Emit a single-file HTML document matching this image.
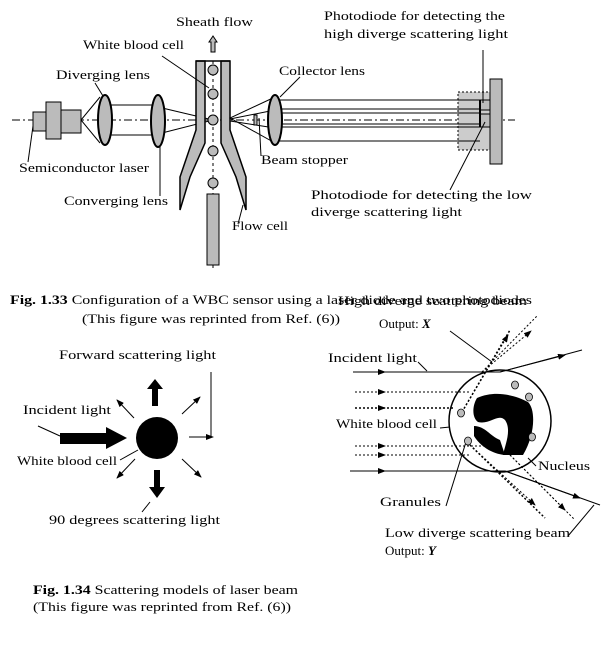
<!DOCTYPE html>
<html><head><style>
html,body{margin:0;padding:0;background:#fff;}
svg{display:block;}
text{font-family:"Liberation Serif",serif;font-size:13px;fill:#000;}
</style></head><body>
<svg width="607" height="647" viewBox="0 0 607 647" xmlns="http://www.w3.org/2000/svg">
<defs>
<marker id="ah" markerWidth="8" markerHeight="6" refX="7" refY="3" orient="auto" markerUnits="userSpaceOnUse"><path d="M0,0 L8,3 L0,6 z" fill="#000"/></marker>
</defs>
<g stroke="#000" fill="none" stroke-width="1">
<line x1="12" y1="120" x2="515" y2="120" stroke-dasharray="8,3,2,3"/>
<rect x="33" y="112" width="13" height="19" fill="#bbb"/>
<rect x="46" y="102" width="15" height="37" fill="#bbb"/>
<rect x="61" y="110" width="20" height="23" fill="#bbb"/>
<polyline points="100,97 81,120 100,143"/>
<line x1="105" y1="105" x2="158" y2="105"/>
<line x1="105" y1="135" x2="158" y2="135"/>
<polyline points="158,107 213,120 158,134"/>
<ellipse cx="105" cy="120" rx="7" ry="25" fill="#bbb" stroke-width="2"/>
<ellipse cx="158" cy="121" rx="7" ry="26" fill="#bbb" stroke-width="2"/>
<line x1="213" y1="61" x2="213" y2="268" stroke-dasharray="3,3"/>
<polygon points="196,61 205,61 205,143 190,177 180,210 180,177 196,130" fill="#bbb" stroke-width="1.5"/>
<polygon points="221,61 230,61 230,130 246,177 246,210 236,177 221,143" fill="#bbb" stroke-width="1.5"/>
<line x1="196" y1="61" x2="230" y2="61" stroke-width="1.5"/>
<circle cx="213" cy="70" r="5" fill="#bbb"/>
<circle cx="213" cy="94" r="5" fill="#bbb"/>
<circle cx="213" cy="120" r="5" fill="#bbb"/>
<circle cx="213" cy="151" r="5" fill="#bbb"/>
<circle cx="213" cy="183" r="5" fill="#bbb"/>
<rect x="207" y="194" width="12" height="71" fill="#bbb"/>
<polygon points="211,52 215,52 215,42 217,42 213,36 209,42 211,42" fill="#bbb"/>
<polyline points="275,97 230,118 275,143"/>
<line x1="230" y1="119" x2="275" y2="110"/><line x1="230" y1="121" x2="275" y2="128"/>
<rect x="458" y="92" width="32" height="58" fill="#ccc" stroke-dasharray="2,2"/>
<line x1="275" y1="100" x2="480" y2="100"/>
<line x1="275" y1="109" x2="480" y2="109"/>
<line x1="275" y1="113" x2="480" y2="113"/>
<line x1="275" y1="124" x2="480" y2="124"/>
<line x1="275" y1="127" x2="480" y2="127"/>
<line x1="275" y1="141" x2="480" y2="141"/>
<ellipse cx="275" cy="120" rx="7" ry="25" fill="#bbb" stroke-width="2"/>
<rect x="254" y="115" width="3" height="10" fill="#bbb"/>
<rect x="480" y="100" width="11" height="10" fill="#bbb"/>
<rect x="480" y="114" width="11" height="13" fill="#bbb"/>
<line x1="480" y1="100" x2="480" y2="127" stroke-width="2"/>
<rect x="490" y="79" width="12" height="85" fill="#bbb"/>
<line x1="162" y1="56" x2="209" y2="88"/>
<line x1="95" y1="83" x2="103" y2="96"/>
<line x1="33" y1="126" x2="28" y2="162"/>
<line x1="160" y1="145" x2="160" y2="196"/>
<line x1="243" y1="205" x2="238" y2="224"/>
<line x1="259" y1="118" x2="261" y2="156"/>
<line x1="300" y1="77" x2="280" y2="97"/>
<line x1="483" y1="50" x2="483" y2="103"/>
<line x1="485" y1="122" x2="450" y2="190"/>
<line x1="38" y1="426" x2="60" y2="436"/>
<line x1="120" y1="460" x2="138" y2="450"/>
<line x1="150" y1="502" x2="142" y2="512"/>
<line x1="189" y1="437" x2="213" y2="437" marker-end="url(#ah)"/>
<line x1="211" y1="372" x2="211" y2="437"/>
<line x1="134" y1="418" x2="117" y2="400" marker-end="url(#ah)"/>
<line x1="182" y1="414" x2="200" y2="397" marker-end="url(#ah)"/>
<line x1="182" y1="459" x2="201" y2="477" marker-end="url(#ah)"/>
<line x1="135" y1="459" x2="117" y2="478" marker-end="url(#ah)"/>
</g>
<circle cx="157" cy="438" r="21" fill="#000"/>
<polygon points="60,433 106,433 106,427 127,438 106,449 106,444 60,444" fill="#000"/>
<polygon points="152,406 152,389 147,389 155,379 163,389 158,389 158,406" fill="#000"/>
<polygon points="154,470 160,470 160,487 165,487 157,498 149,487 154,487" fill="#000"/>
<g stroke="#000" fill="none">
<circle cx="500" cy="421" r="51" stroke-width="1.5"/>
<line x1="353" y1="372" x2="500" y2="372"/>
<line x1="353" y1="372" x2="385" y2="372" marker-end="url(#ah)"/>
<line x1="500" y1="372" x2="582" y2="350"/>
<line x1="500" y1="372" x2="565" y2="355" marker-end="url(#ah)"/>
<line x1="350" y1="471" x2="505" y2="471"/>
<line x1="350" y1="471" x2="385" y2="471" marker-end="url(#ah)"/>
<line x1="505" y1="471" x2="600" y2="505"/>
<line x1="505" y1="471" x2="580" y2="498" marker-end="url(#ah)"/>
<g stroke-dasharray="2,2">
<line x1="355" y1="392" x2="470" y2="392"/><line x1="355" y1="392" x2="385" y2="392" marker-end="url(#ah)"/>
<line x1="355" y1="408" x2="455" y2="408" stroke-width="1.5"/><line x1="355" y1="408" x2="385" y2="408" marker-end="url(#ah)"/>
<line x1="355" y1="446" x2="490" y2="446"/><line x1="355" y1="446" x2="385" y2="446" marker-end="url(#ah)"/>
<line x1="355" y1="455" x2="470" y2="455"/><line x1="355" y1="455" x2="385" y2="455" marker-end="url(#ah)"/>
<line x1="462" y1="412" x2="510" y2="330" stroke-width="1.5"/><line x1="462" y1="412" x2="508" y2="335" marker-end="url(#ah)"/>
<line x1="482" y1="372" x2="537" y2="316"/><line x1="482" y1="372" x2="531" y2="331" marker-end="url(#ah)"/>
<line x1="470" y1="445" x2="545" y2="518" stroke-width="1.5"/><line x1="470" y1="445" x2="535" y2="505" marker-end="url(#ah)"/>
<line x1="510" y1="455" x2="575" y2="520"/><line x1="510" y1="455" x2="565" y2="510" marker-end="url(#ah)"/>
</g>
<line x1="450" y1="331" x2="492" y2="362"/>
<line x1="418" y1="362" x2="427" y2="371"/>
<line x1="440" y1="428" x2="450" y2="427"/>
<line x1="536" y1="466" x2="528" y2="458"/>
<line x1="446" y1="506" x2="466" y2="442"/>
<line x1="568" y1="536" x2="594" y2="505"/>
</g>
<path d="M477,398 C495,390 515,395 528,402 C536,410 535,435 523,455 L503,455 C505,445 512,430 505,420 C498,413 490,425 478,422 C472,418 472,406 477,398 Z" fill="#000"/>
<path d="M474,426 C485,426 490,436 500,440 L505,455 C492,454 480,446 474,436 Z" fill="#000"/>
<g fill="#bbb" stroke="#000" stroke-width="0.8">
<ellipse cx="515" cy="385" rx="3.5" ry="4"/>
<ellipse cx="529" cy="397" rx="3.5" ry="4"/>
<ellipse cx="461" cy="413" rx="3.5" ry="4"/>
<ellipse cx="532" cy="437" rx="3.5" ry="4"/>
<ellipse cx="468" cy="441" rx="3.5" ry="4"/>
</g>
<g>
<text x="176" y="26" textLength="77" lengthAdjust="spacingAndGlyphs">Sheath flow</text>
<text x="83" y="49" textLength="101" lengthAdjust="spacingAndGlyphs">White blood cell</text>
<text x="56" y="79" textLength="94" lengthAdjust="spacingAndGlyphs">Diverging lens</text>
<text x="19" y="172" textLength="130" lengthAdjust="spacingAndGlyphs">Semiconductor laser</text>
<text x="64" y="205" textLength="104" lengthAdjust="spacingAndGlyphs">Converging lens</text>
<text x="232" y="230" textLength="56" lengthAdjust="spacingAndGlyphs">Flow cell</text>
<text x="261" y="164" textLength="87" lengthAdjust="spacingAndGlyphs">Beam stopper</text>
<text x="279" y="75" textLength="86" lengthAdjust="spacingAndGlyphs">Collector lens</text>
<text x="324" y="20" textLength="181" lengthAdjust="spacingAndGlyphs">Photodiode for detecting the</text>
<text x="324" y="38" textLength="184" lengthAdjust="spacingAndGlyphs">high diverge scattering light</text>
<text x="311" y="199" textLength="221" lengthAdjust="spacingAndGlyphs">Photodiode for detecting the low</text>
<text x="311" y="216" textLength="151" lengthAdjust="spacingAndGlyphs">diverge scattering light</text>
<text x="10" y="304" textLength="522" lengthAdjust="spacingAndGlyphs"><tspan font-weight="bold">Fig. 1.33</tspan> Configuration of a WBC sensor using a laser diode and two photodiodes</text>
<text x="82" y="323" textLength="258" lengthAdjust="spacingAndGlyphs">(This figure was reprinted from Ref. (6))</text>
<text x="338" y="305" textLength="189" lengthAdjust="spacingAndGlyphs">High diverge scattering beam</text>
<text x="379" y="328">Output: <tspan font-weight="bold" font-style="italic">X</tspan></text>
<text x="328" y="362" textLength="89" lengthAdjust="spacingAndGlyphs">Incident light</text>
<text x="336" y="428" textLength="101" lengthAdjust="spacingAndGlyphs">White blood cell</text>
<text x="538" y="470" textLength="52" lengthAdjust="spacingAndGlyphs">Nucleus</text>
<text x="380" y="506" textLength="61" lengthAdjust="spacingAndGlyphs">Granules</text>
<text x="385" y="537" textLength="185" lengthAdjust="spacingAndGlyphs">Low diverge scattering beam</text>
<text x="385" y="555">Output: <tspan font-weight="bold" font-style="italic">Y</tspan></text>
<text x="59" y="359" textLength="157" lengthAdjust="spacingAndGlyphs">Forward scattering light</text>
<text x="23" y="414" textLength="88" lengthAdjust="spacingAndGlyphs">Incident light</text>
<text x="17" y="465" textLength="100" lengthAdjust="spacingAndGlyphs">White blood cell</text>
<text x="49" y="524" textLength="171" lengthAdjust="spacingAndGlyphs">90 degrees scattering light</text>
<text x="33" y="594" textLength="265" lengthAdjust="spacingAndGlyphs"><tspan font-weight="bold">Fig. 1.34</tspan> Scattering models of laser beam</text>
<text x="33" y="611" textLength="258" lengthAdjust="spacingAndGlyphs">(This figure was reprinted from Ref. (6))</text>
</g>
</svg>
</body></html>
